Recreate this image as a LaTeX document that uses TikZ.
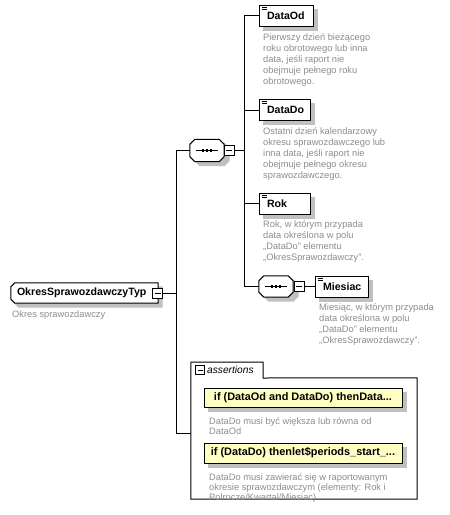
\documentclass[tikz,border=0pt]{standalone}
\usepackage{fontspec}
\setmainfont{Liberation Sans}
\usetikzlibrary{backgrounds}

\definecolor{docgray}{HTML}{8C8C8C}
\definecolor{shadegray}{HTML}{C0C0C0}
\definecolor{asrtyellow}{HTML}{FFFFC4}

\tikzset{
  elem/.style={draw, line width=1pt, fill=white, minimum width=#1, text width=#1-16pt, align=left,
    minimum height=21pt, inner xsep=8pt, inner ysep=0pt, font=\fontsize{10.6}{12}\selectfont\bfseries},
  minusbox/.style={draw, line width=0.8pt, fill=white, minimum size=10pt, inner sep=0pt,
    path picture={\draw[line width=0.8pt] ([xshift=2pt]path picture bounding box.west) -- ([xshift=-2pt]path picture bounding box.east);}},
  asrt/.style={draw, line width=1pt, fill=asrtyellow, minimum width=198pt, minimum height=19pt, inner sep=0pt,
    font=\fontsize{10.9}{12}\selectfont\bfseries},
  doc/.style={anchor=north west, inner sep=0pt, align=left, text=docgray,
    font=\fontsize{9.3}{10.9}\selectfont, execute at begin node=\strut},
  conn/.style={line width=1pt}
}

\newcommand{\docmark}[1]{%
  \foreach \d in {0.5,2.5,4.5}
    \draw[line width=0.7pt] ([xshift=3pt,yshift=-\d pt]#1.north west) -- ++(5,0);}

% octagon of a sequence compositor, shadow first
\newcommand{\seqshape}[1]{%
  \foreach \sx/\sy/\fc/\dc in {5/4/shadegray/shadegray, 0/0/white/black}
    \filldraw[fill=\fc, draw=\dc, line width=1pt]
      ([shift={(5+\sx,\sy)}]#1.north west) -- ([shift={(-5+\sx,\sy)}]#1.north east)
      -- ([shift={(\sx,5+\sy)}]#1.north east) -- ([shift={(\sx,-5+\sy)}]#1.south east)
      -- ([shift={(-5+\sx,\sy)}]#1.south east) -- ([shift={(5+\sx,\sy)}]#1.south west)
      -- ([shift={(\sx,-5+\sy)}]#1.south west) -- ([shift={(\sx,5+\sy)}]#1.north west) -- cycle;
  \draw[line width=1pt] ([xshift=6pt]#1.west) -- ([xshift=-6pt]#1.east);
  \foreach \d in {-4,0,4}
    \fill ([shift={(\d-1.4,-1.4)}]#1.center) rectangle ([shift={(\d+1.4,1.4)}]#1.center);}

\begin{document}
\begin{tikzpicture}[x=1pt,y=-1pt]
\useasboundingbox (0,0) rectangle (450,515);

% root type
\node[minimum width=147pt, minimum height=20pt, inner sep=0pt] (root) at (84.5,293) {};
\foreach \sx/\sy/\fc/\dc in {4/4/shadegray/shadegray, 0/0/white/black}
  \filldraw[fill=\fc, draw=\dc, line width=1pt]
    ([shift={(4+\sx,\sy)}]root.north west) -- ([shift={(\sx,\sy)}]root.north east)
    -- ([shift={(\sx,\sy)}]root.south east) -- ([shift={(4+\sx,\sy)}]root.south west)
    -- ([shift={(\sx,-4+\sy)}]root.south west) -- ([shift={(\sx,4+\sy)}]root.north west) -- cycle;
\node[anchor=west, inner sep=0pt, font=\fontsize{10.6}{12}\selectfont\bfseries] (roottext) at ([xshift=6pt]root.west) {OkresSprawozdawczyTyp};
\node[minusbox] (rootminus) at (157.5,293) {};
\node[doc] (rootdoc) at (12,309.9) {Okres sprawozdawczy};

% sequence
\node[minimum width=34pt, minimum height=22pt, inner sep=0pt] (seq1) at (207,150.5) {};
\seqshape{seq1}
\node[minusbox] (seq1minus) at (229,150.5) {};

\node[elem=54pt] (dataod) at (286,15.5) {DataOd};
\node[elem=51pt] (datado) at (284.5,110) {DataDo};
\node[elem=51pt] (rok) at (284.5,203.5) {Rok};
\docmark{dataod}
\docmark{datado}
\docmark{rok}

\node[doc] (dataoddoc) at (263,33.4) {Pierwszy dzień bieżącego\\roku obrotowego lub inna\\data, jeśli raport nie\\obejmuje pełnego roku\\obrotowego.};
\node[doc] (datadodoc) at (263,127.9) {Ostatni dzień kalendarzowy\\okresu sprawozdawczego lub\\inna data, jeśli raport nie\\obejmuje pełnego okresu\\sprawozdawczego.};
\node[doc] (rokdoc) at (263,220.9) {Rok, w którym przypada\\data określona w polu\\„DataDo” elementu\\„OkresSprawozdawczy”.};

% choice of month
\node[minimum width=34pt, minimum height=21pt, inner sep=0pt] (seq2) at (276,286.5) {};
\seqshape{seq2}
\node[minusbox] (seq2minus) at (299,286.5) {};
\node[elem=53pt] (miesiac) at (341.5,286.5) {Miesiac};
\docmark{miesiac}
\node[doc] (miesiacdoc) at (319,303.9) {Miesiąc, w którym przypada\\data określona w polu\\„DataDo” elementu\\„OkresSprawozdawczy”.};

% assertions
\node[minimum width=226pt, minimum height=121pt, inner sep=0pt] (asrtbox) at (304,438.5) {};
\draw[line width=1pt] (asrtbox.south west) -- (191,362) -- (263,362) -- (263,378) -- (asrtbox.north east) -- (asrtbox.south east) -- cycle;
\node[minusbox, minimum size=9pt] (asrtminus) at (200,370) {};
\node[anchor=west, inner sep=0pt, font=\fontsize{10.2}{12}\selectfont\itshape] (asrttab) at (207,370) {assertions};

\node[asrt] (asrt1) at (303,397.5) {if (DataOd and DataDo) thenData...};
\node[doc] (asrt1doc) at (209,417) {DataDo musi być większa lub równa od\\DataOd};
\node[asrt, minimum height=20pt] (asrt2) at (303,453) {if (DataDo) thenlet\$periods\_start\_...};
\node[doc, font=\fontsize{9.3}{10}\selectfont] (asrt2doc) at (209,473) {DataDo musi zawierać się w raportowanym\\okresie sprawozdawczym (elementy: Rok i\\Polrocze/Kwartal/Miesiac)};

% shadows behind the boxes
\begin{scope}[on background layer]
\foreach \n in {dataod,datado,rok,miesiac,asrt1,asrt2}
  \fill[shadegray] ([shift={(4,4)}]\n.north west) rectangle ([shift={(4,4)}]\n.south east);
\end{scope}

% connectors
\coordinate (bus1top) at (176,150.5);
\coordinate (bus1bot) at (176,433);
\coordinate (bus2top) at (244,15.5);
\coordinate (bus2bot) at (244,286.5);

\draw[conn] (rootminus.east) -- (rootminus.east -| bus1top);
\draw[conn] (bus1top) -- (bus1bot);
\draw[conn] (bus1top) -- (seq1.west);
\draw[conn] (bus1bot) -- (bus1bot -| asrtbox.west);
\draw[conn] (seq1minus.east) -- (seq1minus.east -| bus2top);
\draw[conn] (bus2top) -- (bus2bot);
\foreach \n in {dataod,datado,rok}
  \draw[conn] (\n.west -| bus2top) -- (\n.west);
\draw[conn] (bus2bot) -- (seq2.west);
\draw[conn] (seq2minus.east) -- (miesiac.west);
\end{tikzpicture}
\end{document}
